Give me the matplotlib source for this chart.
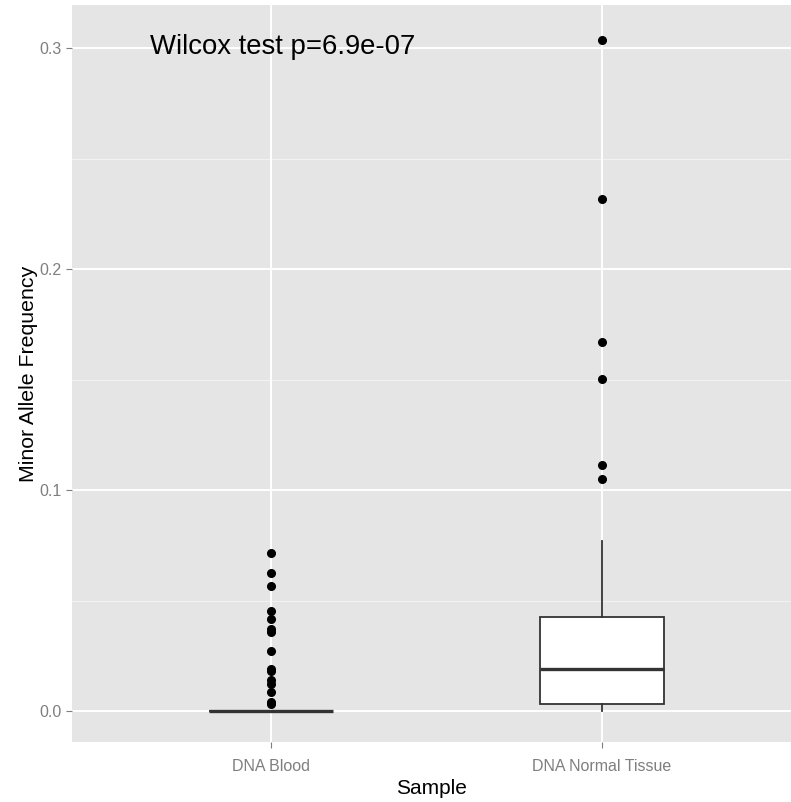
import matplotlib
matplotlib.use('Agg')
import matplotlib.pyplot as plt
import numpy as np

plt.rcParams['font.family'] = ['Liberation Sans', 'DejaVu Sans']

# data
samples = ['DNA Blood', 'DNA Normal Tissue']
q1 = [0.0, 0.0032]
med = [0.0, 0.0189]
q3 = [0.0, 0.0427]
whislo = [0.0, 0.0]
whishi = [0.0, 0.0769]
blood_outliers = [0.0715, 0.0626, 0.0566, 0.0454, 0.0416, 0.0372, 0.0359,
                  0.0271, 0.0189, 0.0180, 0.0140, 0.0122, 0.0087, 0.0042, 0.0032]
tissue_outliers = [0.3036, 0.2317, 0.1670, 0.1502, 0.1113, 0.1050]
yticks = [0.0, 0.1, 0.2, 0.3]
yticklabels = ['0.0', '0.1', '0.2', '0.3']
minor_ticks = [0.05, 0.15, 0.25]
p_value = '6.9e-07'

fig = plt.figure(figsize=(7.91, 8.02), dpi=100)
ax = fig.add_axes([72/791, 60/802, 1 - 72/791, 737/802])
ax.set_facecolor('#e5e5e5')
for s in ax.spines.values():
    s.set_visible(False)

# ggplot-style grid
for y in minor_ticks:
    ax.axhline(y, color='#f2f2f2', lw=0.8, zorder=0)
for y in yticks:
    ax.axhline(y, color='white', lw=1.4, zorder=0)
for x in range(1, len(samples) + 1):
    ax.axvline(x, color='white', lw=1.4, zorder=0)

stats = []
outs = [blood_outliers, tissue_outliers]
for i, name in enumerate(samples):
    stats.append({'label': name, 'q1': q1[i], 'med': med[i], 'q3': q3[i],
                  'whislo': whislo[i], 'whishi': whishi[i], 'fliers': outs[i]})

ax.bxp(stats, positions=[1, 2], widths=0.375, patch_artist=True,
       showcaps=False,
       boxprops=dict(facecolor='white', edgecolor='#333333', lw=1.3),
       whiskerprops=dict(color='#333333', lw=1.3),
       medianprops=dict(color='#333333', lw=2.4),
       flierprops=dict(marker='o', markerfacecolor='black', markeredgecolor='black',
                       markersize=5.5, linestyle='none'),
       zorder=3)

ax.set_xlim(0.4, 2.572)
ax.set_ylim(-0.014, 0.3195)
ax.set_xticks([1, 2])
ax.set_xticklabels(samples)
ax.set_yticks(yticks)
ax.set_yticklabels(yticklabels)
ax.tick_params(colors='#7f7f7f', labelcolor='#7f7f7f', labelsize=11.5,
               length=4, width=0.8)
ax.tick_params(axis='x', pad=8)

ax.set_xlabel('Sample', fontsize=15, color='black', labelpad=4)
ax.set_ylabel('Minor Allele Frequency', fontsize=15.3, color='black', labelpad=1)

ax.text(1.035, 0.3005, 'Wilcox test p=' + p_value, ha='center', va='center',
        fontsize=19.8, color='black')

fig.savefig('out.png', dpi=100)
